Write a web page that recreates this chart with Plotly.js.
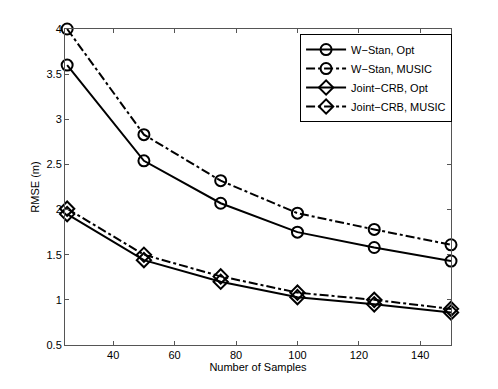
<!DOCTYPE html>
<html>
<head>
<meta charset="utf-8">
<script src="https://cdn.plot.ly/plotly-3.0.1.min.js"></script>
<style>
  body { margin: 0; background: #fff; }
  #chart { width: 498px; height: 389px; }
</style>
</head>
<body>
<div id="chart"></div>
<script>
var samples = [25, 50, 75, 100, 125, 150];
var wStanOpt = [3.60, 2.54, 2.07, 1.75, 1.58, 1.43];
var wStanMusic = [4.00, 2.83, 2.32, 1.96, 1.78, 1.61];
var jointOpt = [1.95, 1.44, 1.20, 1.03, 0.95, 0.86];
var jointMusic = [2.01, 1.50, 1.26, 1.08, 1.00, 0.90];
var seriesNames = ['W\u2212Stan, Opt', 'W\u2212Stan, MUSIC', 'Joint\u2212CRB, Opt', 'Joint\u2212CRB, MUSIC'];

function makeTrace(y, name, dash, symbol) {
    return {
        x: samples,
        y: y,
        name: name,
        type: 'scatter',
        mode: 'lines+markers',
        line: { color: '#000', width: 2, dash: dash },
        marker: { symbol: symbol, size: 11, color: '#000', line: { color: '#000', width: 2 } },
        cliponaxis: false
    };
}

var data = [
    makeTrace(wStanOpt, seriesNames[0], 'solid', 'circle-open'),
    makeTrace(wStanMusic, seriesNames[1], 'dashdot', 'circle-open'),
    makeTrace(jointOpt, seriesNames[2], 'solid', 'diamond-open'),
    makeTrace(jointMusic, seriesNames[3], 'dashdot', 'diamond-open')
];

var axisCommon = {
    showgrid: false,
    zeroline: false,
    showline: true,
    mirror: 'ticks',
    linecolor: '#555',
    linewidth: 1,
    ticks: 'inside',
    ticklen: 4,
    tickcolor: '#555',
    tickfont: { family: 'Liberation Sans, Arial, sans-serif', size: 11, color: '#000' }
};

var layout = {
    width: 498,
    height: 389,
    margin: { l: 65, r: 47, t: 29, b: 44 },
    paper_bgcolor: '#fff',
    plot_bgcolor: '#fff',
    font: { family: 'Liberation Sans, Arial, sans-serif', size: 11, color: '#000' },
    xaxis: Object.assign({}, axisCommon, {
        range: [24.3, 150],
        tickvals: [40, 60, 80, 100, 120, 140],
        title: { text: 'Number of Samples', font: { size: 11 }, standoff: 0 }
    }),
    yaxis: Object.assign({}, axisCommon, {
        range: [0.5, 4],
        tickvals: [0.5, 1, 1.5, 2, 2.5, 3, 3.5, 4],
        ticktext: ['0.5', '1', '1.5', '2', '2.5', '3', '3.5', '4'],
        title: { text: 'RMSE (m)', font: { size: 11 }, standoff: 4 }
    }),
    showlegend: true,
    legend: {
        x: 0.609, y: 0.984, xanchor: 'left', yanchor: 'top',
        bgcolor: '#fff',
        bordercolor: '#000',
        borderwidth: 1,
        font: { size: 11 },
        tracegroupgap: 0,
        itemwidth: 40
    }
};

Plotly.newPlot('chart', data, layout, { displayModeBar: false, staticPlot: true });
</script>
</body>
</html>
